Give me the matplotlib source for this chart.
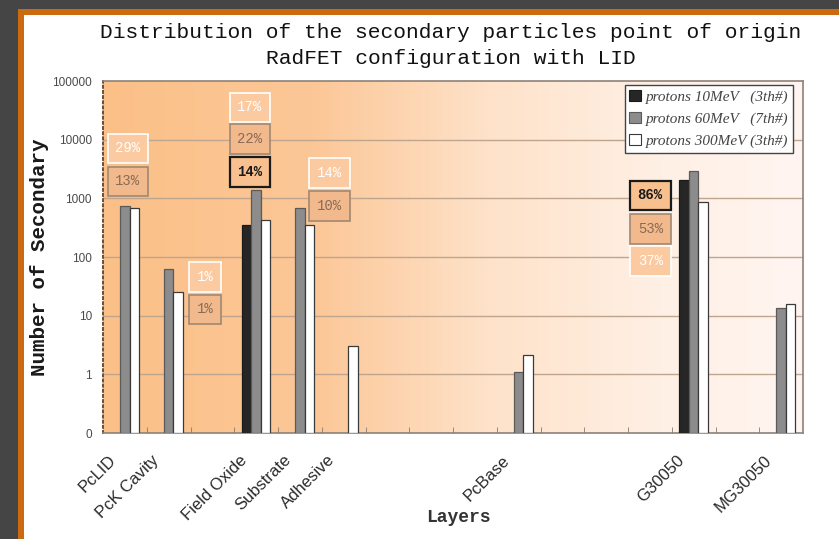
import matplotlib.pyplot as plt
import matplotlib.transforms as mtransforms
import numpy as np
from matplotlib.colors import LinearSegmentedColormap
from matplotlib.patches import Patch, Rectangle
from matplotlib.ticker import FixedFormatter, FixedLocator, NullLocator

W, H = 839, 539

# layers along the stack; unnamed slots carry no secondaries
layers = ['PcLID', 'PcK Cavity', '', 'Field Oxide', 'Substrate', 'Adhesive', '', '', '',
          'PcBase', '', '', '', 'G30050', '', 'MG30050']
p10 = [0, 0, 0, 355, 0, 0, 0, 0, 0, 0, 0, 0, 0, 2040, 0, 0]
p60 = [750, 63, 0, 1390, 675, 0, 0, 0, 0, 1, 0, 0, 0, 2880, 0, 13.5]
p300 = [690, 25, 0, 425, 350, 3, 0, 0, 0, 2, 0, 0, 0, 880, 0, 16]
series_names = ['protons 10MeV   (3th#)', 'protons 60MeV   (7th#)', 'protons 300MeV (3th#)']

# percentage of each beam's secondaries produced in a layer
share10 = {'Field Oxide': 14, 'G30050': 86}
share60 = {'PcLID': 13, 'PcK Cavity': 1, 'Field Oxide': 22, 'Substrate': 10, 'G30050': 53}
share300 = {'PcLID': 29, 'PcK Cavity': 1, 'Field Oxide': 17, 'Substrate': 14, 'G30050': 37}

# where the percentage boxes sit: x shift from the layer slot, height as log10(count)
box_dx = {'PcLID': 0.07, 'PcK Cavity': 0.83, 'Field Oxide': -0.14, 'Substrate': 0.68, 'G30050': -0.99}
box_level = [
    {'Field Oxide': 3.45, 'G30050': 3.05},
    {'PcLID': 3.29, 'PcK Cavity': 1.11, 'Field Oxide': 4.01, 'Substrate': 2.87, 'G30050': 2.475},
    {'PcLID': 3.855, 'PcK Cavity': 1.66, 'Field Oxide': 4.55, 'Substrate': 3.43, 'G30050': 1.93},
]

bar_colors = ['#262626', '#8c8c8c', '#ffffff']
bar_edges = ['#1a1a1a', '#5a5a5a', '#3a3a3a']
box_styles = [
    dict(face='#f7c08e', edge='#1a1a1a', text='#1a1a1a', weight='bold', lw=1.6),
    dict(face='#f2b98c', edge='#a08872', text='#8a6a55', weight='normal', lw=1.2),
    dict(face='#fbcaa0', edge='#ffffff', text='#ffffff', weight='normal', lw=1.2),
]

fig = plt.figure(figsize=(W / 100, H / 100), dpi=100)
fig.patch.set_facecolor('white')

# dark frame with orange inner rule on the left and top
fig.add_artist(Rectangle((0, 0), 18 / W, 1, transform=fig.transFigure, color='#454545', lw=0))
fig.add_artist(Rectangle((0, 1 - 9 / H), 1, 9 / H, transform=fig.transFigure, color='#454545', lw=0))
fig.add_artist(Rectangle((18 / W, 0), 6 / W, 1 - 9 / H, transform=fig.transFigure, color='#cc6a10', lw=0))
fig.add_artist(Rectangle((18 / W, 1 - 15 / H), 1, 6 / H, transform=fig.transFigure, color='#cc6a10', lw=0))

rect = [103 / W, 1 - 433 / H, 700 / W, 352 / H]

# peach to near-white wash behind the bars
bg = fig.add_axes(rect, zorder=0)
cmap = LinearSegmentedColormap.from_list('wash', [
    (0.0, '#fbc088'), (0.3, '#fcc797'), (0.55, '#fee2c9'), (0.8, '#fff0e5'), (1.0, '#fff5f1')])
bg.imshow(np.linspace(0, 1, 256)[None, :], aspect='auto', cmap=cmap, extent=[0, 1, 0, 1])
bg.axis('off')

ax = fig.add_axes(rect, zorder=1)
ax.patch.set_alpha(0)
ax.set_yscale('log')

x = np.arange(len(layers))
width = 0.217
for k, vals in enumerate([p10, p60, p300]):
    vals = np.array(vals, dtype=float)
    keep = vals > 0
    ax.bar(x[keep] + (k - 1) * width, vals[keep], width, bottom=0.1,
           color=bar_colors[k], edgecolor=bar_edges[k], linewidth=0.9, zorder=3)

for k, shares in enumerate([share10, share60, share300]):
    st = box_styles[k]
    for layer, pct in shares.items():
        xi = layers.index(layer) + box_dx[layer]
        ax.text(xi, 10 ** box_level[k][layer], f'{pct}%', ha='center', va='center',
                family='Liberation Mono', fontsize=10, fontweight=st['weight'], color=st['text'],
                zorder=4,
                bbox=dict(boxstyle='square,pad=0.55', facecolor=st['face'],
                          edgecolor=st['edge'], linewidth=st['lw']))

ax.set_xlim(-0.5, len(layers) - 0.5)
ax.set_ylim(0.1, 100000)

yt = [0.1, 1, 10, 100, 1000, 10000, 100000]
ax.yaxis.set_major_locator(FixedLocator(yt))
ax.yaxis.set_major_formatter(FixedFormatter(['0', '1', '10', '100', '1000', '10000', '100000']))
ax.yaxis.set_minor_locator(NullLocator())
ax.tick_params(axis='y', length=0, pad=8, labelsize=8.5, labelcolor='#4a4a4a')
for lab in ax.get_yticklabels():
    lab.set_family('Liberation Sans')
for v in yt[1:-1]:
    ax.axhline(v, color='#bfa48e', lw=1.0, zorder=1)

ax.set_xticks(x)
ax.set_xticklabels(layers, rotation=45, ha='right', rotation_mode='anchor',
                   family='Liberation Sans', fontsize=12, color='#2a2a2a')
ax.set_xticks(np.arange(0.5, len(layers) - 1), minor=True)
ax.tick_params(axis='x', which='major', length=0, pad=14)
ax.tick_params(axis='x', which='minor', direction='in', length=4, color='#8a7a6a')
shift = mtransforms.ScaledTranslation(-0.17, 0, fig.dpi_scale_trans)
for lab in ax.get_xticklabels():
    lab.set_transform(lab.get_transform() + shift)

for side in ['top', 'right', 'bottom']:
    ax.spines[side].set_color('#8c8279')
    ax.spines[side].set_linewidth(1.2)
ax.spines['left'].set_color('#6b4e36')
ax.spines['left'].set_linestyle(':')
ax.spines['left'].set_linewidth(1.4)

ax.set_ylabel('Number of Secondary', family='Liberation Mono', fontweight='bold',
              fontsize=15, labelpad=2, color='#1a1a1a')
fig.text(458 / W, 1 - 518 / H, 'Layers', ha='center', va='center', family='Liberation Mono',
         fontweight='bold', fontsize=13, color='#333333')

fig.text(451 / W, 1 - 33 / H, 'Distribution of the secondary particles point of origin',
         ha='center', va='center', family='Liberation Mono', fontsize=15.3, color='#111111')
fig.text(451 / W, 1 - 58 / H, 'RadFET configuration with LID',
         ha='center', va='center', family='Liberation Mono', fontsize=15.3, color='#111111')

handles = [Patch(facecolor=c, edgecolor=e, linewidth=0.8) for c, e in zip(bar_colors, bar_edges)]
leg = ax.legend(handles, series_names, loc='upper right', bbox_to_anchor=(0.986, 0.988),
                borderaxespad=0,
                prop=dict(family='Liberation Serif', style='italic', size=11),
                handlelength=0.8, handleheight=0.8, handletextpad=0.3, labelspacing=0.5,
                borderpad=0.3, fancybox=False, framealpha=1, edgecolor='#444444',
                labelcolor='#444444')
leg.get_frame().set_linewidth(1.0)
leg.set_zorder(5)

fig.savefig('out.png', dpi=100)
